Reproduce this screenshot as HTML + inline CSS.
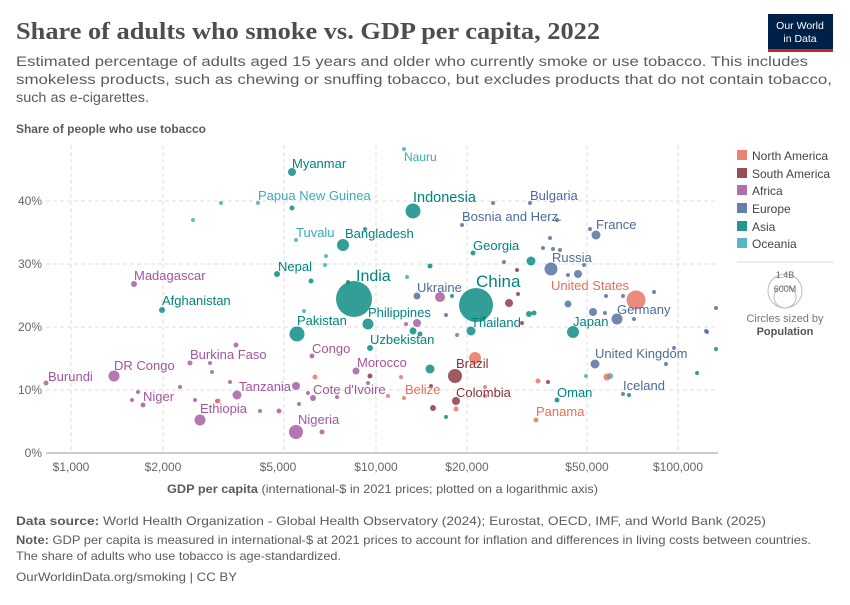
<!DOCTYPE html>
<html><head><meta charset="utf-8"><style>
body{margin:0;background:#fff;width:850px;height:600px;overflow:hidden;font-family:"Liberation Sans",sans-serif}
</style></head><body>
<svg width="850" height="600" xmlns="http://www.w3.org/2000/svg" font-family="Liberation Sans, sans-serif">
<text x="16" y="39" font-family="Liberation Serif, serif" font-size="24" font-weight="bold" fill="#4e4e4e" textLength="584" lengthAdjust="spacingAndGlyphs">Share of adults who smoke vs. GDP per capita, 2022</text>
<rect x="768" y="14" width="65" height="37" fill="#002147"/>
<rect x="768" y="49" width="65" height="3" fill="#ce261e"/>
<text x="800" y="29" font-size="10.5" fill="#fff" text-anchor="middle">Our World</text>
<text x="800" y="42" font-size="10.5" fill="#fff" text-anchor="middle">in Data</text>
<g font-size="13.5" fill="#5b5b5b">
<text x="16" y="66" textLength="792" lengthAdjust="spacingAndGlyphs">Estimated percentage of adults aged 15 years and older who currently smoke or use tobacco. This includes</text>
<text x="16" y="84" textLength="816" lengthAdjust="spacingAndGlyphs">smokeless products, such as chewing or snuffing tobacco, but excludes products that do not contain tobacco,</text>
<text x="16" y="102" textLength="133" lengthAdjust="spacingAndGlyphs">such as e-cigarettes.</text>
</g>
<text x="16" y="133" font-size="11.5" font-weight="bold" fill="#5b5b5b" textLength="190" lengthAdjust="spacingAndGlyphs">Share of people who use tobacco</text>
<g stroke="#ddd" stroke-dasharray="4,3">
<line x1="46" y1="201" x2="718" y2="201"/><line x1="46" y1="264" x2="718" y2="264"/>
<line x1="46" y1="327" x2="718" y2="327"/><line x1="46" y1="390" x2="718" y2="390"/>
<line x1="71" y1="145" x2="71" y2="453"/><line x1="163" y1="145" x2="163" y2="453"/>
<line x1="284" y1="145" x2="284" y2="453"/><line x1="376" y1="145" x2="376" y2="453"/>
<line x1="467" y1="145" x2="467" y2="453"/><line x1="587" y1="145" x2="587" y2="453"/>
<line x1="678" y1="145" x2="678" y2="453"/>
</g>
<line x1="46" y1="453" x2="718" y2="453" stroke="#999"/>
<g font-size="12" fill="#666" text-anchor="end">
<text x="42" y="205">40%</text><text x="42" y="268">30%</text><text x="42" y="331">20%</text><text x="42" y="394">10%</text><text x="42" y="457">0%</text>
</g>
<g font-size="12" fill="#666" text-anchor="middle">
<text x="71" y="471">$1,000</text><text x="163" y="471">$2,000</text><text x="278" y="471">$5,000</text><text x="376" y="471">$10,000</text><text x="467" y="471">$20,000</text><text x="587" y="471">$50,000</text><text x="678" y="471">$100,000</text>
</g>
<text x="167" y="493" font-size="12" fill="#5b5b5b" textLength="431" lengthAdjust="spacingAndGlyphs"><tspan font-weight="bold">GDP per capita</tspan> (international-$ in 2021 prices; plotted on a logarithmic axis)</text>
<g fill-opacity="0.8">
<g fill="#38aaba">
<circle cx="404" cy="149" r="2"/><circle cx="258" cy="203" r="2"/><circle cx="221" cy="203" r="2"/><circle cx="193" cy="220" r="2"/><circle cx="296" cy="240" r="2"/><circle cx="326" cy="256" r="2"/><circle cx="325" cy="265" r="2"/><circle cx="304" cy="311" r="2"/><circle cx="407" cy="277" r="2"/><circle cx="610" cy="376" r="3"/><circle cx="586" cy="376" r="2"/>
</g>
<g fill="#a2559c">
<circle cx="134" cy="284" r="3"/><circle cx="46" cy="383" r="2.5"/><circle cx="114" cy="376" r="5.5"/><circle cx="190" cy="363" r="2.5"/><circle cx="236" cy="345" r="2.5"/><circle cx="210" cy="363" r="2"/><circle cx="212" cy="372" r="2"/><circle cx="180" cy="387" r="2"/><circle cx="230" cy="382" r="2"/><circle cx="237" cy="395" r="4.5"/><circle cx="138" cy="392" r="2"/><circle cx="143" cy="405" r="2.5"/><circle cx="132" cy="400" r="2"/><circle cx="195" cy="400" r="2"/><circle cx="200" cy="420" r="5.5"/><circle cx="260" cy="411" r="2"/><circle cx="279" cy="411" r="2.5"/><circle cx="299" cy="404" r="2"/><circle cx="296" cy="386" r="4"/><circle cx="296" cy="432" r="7"/><circle cx="322" cy="432" r="2.5"/><circle cx="312" cy="356" r="2.5"/><circle cx="356" cy="371" r="3.5"/><circle cx="368" cy="383" r="2"/><circle cx="308" cy="393" r="2"/><circle cx="313" cy="398" r="3"/><circle cx="440" cy="297" r="5"/><circle cx="417" cy="323" r="4"/><circle cx="406" cy="324" r="2"/><circle cx="457" cy="335" r="2"/><circle cx="337" cy="397" r="2"/><circle cx="217" cy="401" r="2"/>
</g>
<g fill="#00847e">
<circle cx="292" cy="172" r="4"/><circle cx="292" cy="208" r="2.5"/><circle cx="343" cy="245" r="6"/><circle cx="365" cy="229" r="2"/><circle cx="277" cy="274" r="3"/><circle cx="311" cy="281" r="2.5"/><circle cx="348" cy="282" r="2"/><circle cx="354" cy="299" r="18"/><circle cx="297" cy="334" r="7.5"/><circle cx="368" cy="324" r="5.5"/><circle cx="370" cy="348" r="3"/><circle cx="162" cy="310" r="3"/><circle cx="413" cy="211" r="7.5"/><circle cx="430" cy="266" r="2.5"/><circle cx="476" cy="305" r="17"/><circle cx="471" cy="331" r="4.5"/><circle cx="473" cy="253" r="2.5"/><circle cx="531" cy="261" r="4.5"/><circle cx="529" cy="314" r="3"/><circle cx="534" cy="313" r="2.5"/><circle cx="573" cy="332" r="6"/><circle cx="413" cy="331" r="3.5"/><circle cx="420" cy="334" r="2.5"/><circle cx="430" cy="369" r="4.5"/><circle cx="446" cy="417" r="2"/><circle cx="557" cy="400" r="2.5"/><circle cx="697" cy="373" r="2"/><circle cx="716" cy="349" r="2"/><circle cx="629" cy="395" r="2"/><circle cx="452" cy="296" r="2"/><circle cx="484" cy="318" r="2"/>
</g>
<g fill="#4c6a9c">
<circle cx="530" cy="203" r="2"/><circle cx="493" cy="203" r="2"/><circle cx="462" cy="225" r="2"/><circle cx="557" cy="220" r="2"/><circle cx="596" cy="235" r="4.5"/><circle cx="590" cy="229" r="2"/><circle cx="550" cy="238" r="2"/><circle cx="543" cy="248" r="2"/><circle cx="553" cy="249" r="2"/><circle cx="560" cy="250" r="2"/><circle cx="551" cy="269" r="6.5"/><circle cx="578" cy="274" r="4"/><circle cx="568" cy="275" r="2"/><circle cx="584" cy="265" r="2"/><circle cx="504" cy="262" r="2"/><circle cx="417" cy="296" r="3.5"/><circle cx="568" cy="304" r="3.5"/><circle cx="606" cy="296" r="2"/><circle cx="623" cy="296" r="2"/><circle cx="654" cy="292" r="2"/><circle cx="617" cy="319" r="5.5"/><circle cx="593" cy="312" r="4"/><circle cx="605" cy="313" r="2"/><circle cx="634" cy="319" r="2"/><circle cx="595" cy="364" r="4.5"/><circle cx="666" cy="364" r="2"/><circle cx="623" cy="394" r="2"/><circle cx="446" cy="315" r="2"/><circle cx="706" cy="331" r="2"/><circle cx="716" cy="308" r="2"/><circle cx="707" cy="332" r="2"/><circle cx="674" cy="348" r="2"/>
</g>
<g fill="#883039">
<circle cx="455" cy="376" r="7"/><circle cx="456" cy="401" r="4"/><circle cx="548" cy="382" r="2"/><circle cx="433" cy="408" r="3"/><circle cx="518" cy="294" r="2"/><circle cx="517" cy="270" r="2"/><circle cx="509" cy="303" r="4"/><circle cx="522" cy="323" r="2"/><circle cx="370" cy="376" r="2.5"/><circle cx="431" cy="386" r="2"/>
</g>
<g fill="#e56e5a">
<circle cx="636" cy="300" r="9.5"/><circle cx="475" cy="358" r="6"/><circle cx="401" cy="377" r="2"/><circle cx="388" cy="396" r="2"/><circle cx="404" cy="398" r="2"/><circle cx="536" cy="420" r="2.5"/><circle cx="538" cy="381" r="2.5"/><circle cx="607" cy="377" r="3.5"/><circle cx="315" cy="377" r="2.5"/><circle cx="218" cy="401" r="2.5"/><circle cx="456" cy="409" r="2.5"/><circle cx="485" cy="387" r="2"/><circle cx="485" cy="396" r="2"/>
</g>
</g>
<g font-size="13">
<g fill="#00847e">
<text x="292" y="168">Myanmar</text><text x="345" y="238">Bangladesh</text><text x="278" y="271">Nepal</text><text x="356" y="281" font-size="16">India</text><text x="162" y="305">Afghanistan</text><text x="297" y="325">Pakistan</text><text x="368" y="317">Philippines</text><text x="370" y="344">Uzbekistan</text><text x="413" y="202" font-size="14.5">Indonesia</text><text x="476" y="287" font-size="17">China</text><text x="471" y="327">Thailand</text><text x="473" y="250">Georgia</text><text x="573" y="326">Japan</text><text x="557" y="397">Oman</text>
</g>
<g fill="#38aaba">
<text x="404" y="161" font-size="12">Nauru</text><text x="258" y="200">Papua New Guinea</text><text x="296" y="237">Tuvalu</text>
</g>
<g fill="#a2559c">
<text x="134" y="280">Madagascar</text><text x="48" y="381">Burundi</text><text x="114" y="370">DR Congo</text><text x="190" y="359">Burkina Faso</text><text x="239" y="391">Tanzania</text><text x="143" y="401">Niger</text><text x="200" y="413">Ethiopia</text><text x="298" y="424">Nigeria</text><text x="312" y="353">Congo</text><text x="357" y="367">Morocco</text><text x="313" y="394">Cote d'Ivoire</text>
</g>
<g fill="#4c6a9c">
<text x="530" y="200">Bulgaria</text><text x="462" y="221">Bosnia and Herz.</text><text x="596" y="229">France</text><text x="552" y="262">Russia</text><text x="417" y="292">Ukraine</text><text x="617" y="314">Germany</text><text x="595" y="358">United Kingdom</text><text x="623" y="390">Iceland</text>
</g>
<g fill="#883039"><text x="456" y="368">Brazil</text><text x="456" y="397">Colombia</text></g>
<g fill="#e56e5a"><text x="551" y="290">United States</text><text x="405" y="394">Belize</text><text x="536" y="416">Panama</text></g>
</g>
<g font-size="12" fill="#444">
<rect x="737" y="150" width="10" height="10" fill="#e56e5a" fill-opacity="0.85"/><text x="752" y="160">North America</text>
<rect x="737" y="168" width="10" height="10" fill="#883039" fill-opacity="0.85"/><text x="752" y="178">South America</text>
<rect x="737" y="185" width="10" height="10" fill="#a2559c" fill-opacity="0.85"/><text x="752" y="195">Africa</text>
<rect x="737" y="203" width="10" height="10" fill="#4c6a9c" fill-opacity="0.85"/><text x="752" y="213">Europe</text>
<rect x="737" y="221" width="10" height="10" fill="#00847e" fill-opacity="0.85"/><text x="752" y="231">Asia</text>
<rect x="737" y="238" width="10" height="10" fill="#38aaba" fill-opacity="0.85"/><text x="752" y="248">Oceania</text>
</g>
<line x1="737" y1="262" x2="834" y2="262" stroke="#ddd"/>
<circle cx="785" cy="291" r="17" fill="none" stroke="#bbb"/>
<circle cx="785" cy="297" r="11" fill="none" stroke="#bbb"/>
<text x="785" y="278" font-size="9" fill="#666" text-anchor="middle">1.4B</text>
<text x="785" y="292" font-size="9" fill="#666" text-anchor="middle">600M</text>
<text x="785" y="322" font-size="11" fill="#777" text-anchor="middle">Circles sized by</text>
<text x="785" y="335" font-size="11" font-weight="bold" fill="#555" text-anchor="middle">Population</text>
<g font-size="12" fill="#5b5b5b">
<text x="16" y="525" textLength="750" lengthAdjust="spacingAndGlyphs"><tspan font-weight="bold">Data source:</tspan> World Health Organization - Global Health Observatory (2024); Eurostat, OECD, IMF, and World Bank (2025)</text>
<text x="16" y="544" textLength="795" lengthAdjust="spacingAndGlyphs"><tspan font-weight="bold">Note:</tspan> GDP per capita is measured in international-$ at 2021 prices to account for inflation and differences in living costs between countries.</text>
<text x="16" y="560" textLength="325" lengthAdjust="spacingAndGlyphs">The share of adults who use tobacco is age-standardized.</text>
<text x="16" y="581" textLength="221" lengthAdjust="spacingAndGlyphs">OurWorldinData.org/smoking | CC BY</text>
</g>
</svg>
</body></html>
